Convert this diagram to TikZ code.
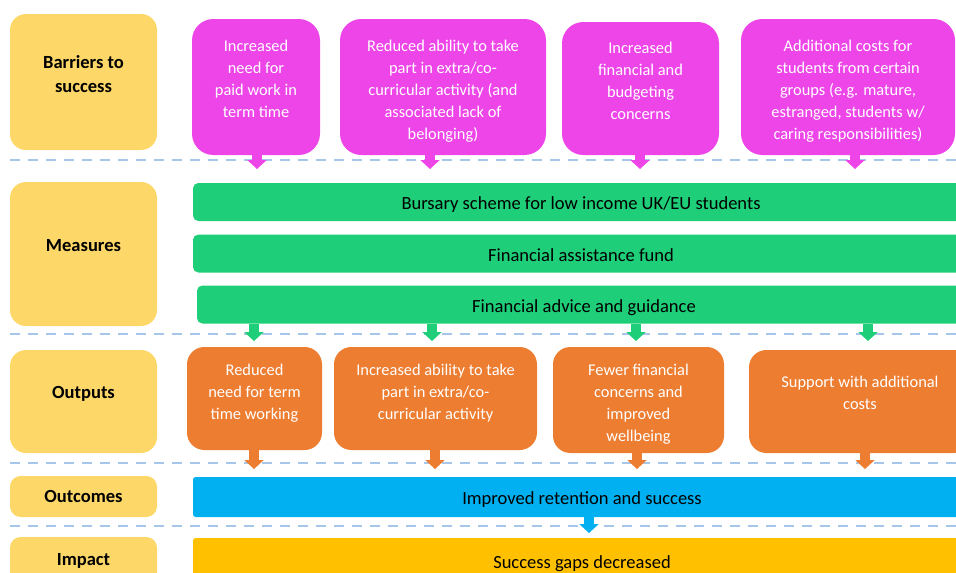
\documentclass[tikz,border=0pt]{standalone}
\usepackage{fontspec}
\setmainfont{Carlito}
\usetikzlibrary{arrows.meta}
\definecolor{stagecolor}{HTML}{FDD768}
\definecolor{barriercolor}{HTML}{EE45E9}
\definecolor{measurecolor}{HTML}{1FCE78}
\definecolor{outputcolor}{HTML}{ED7D31}
\definecolor{outcomecolor}{HTML}{00B0F0}
\definecolor{impactcolor}{HTML}{FFC000}
\definecolor{rulecolor}{HTML}{A6C6EA}

\begin{document}
\begin{tikzpicture}[
    x=0.75pt, y=-0.75pt,
    every node/.style={inner sep=0pt, align=center, font=\fontsize{13.9}{18}\selectfont},
    stage/.style={rectangle, fill=stagecolor, rounded corners=12pt, minimum width=110.25pt,
                  font=\fontsize{13.9}{18}\selectfont\bfseries},
    barrier/.style={rectangle, fill=barriercolor, rounded corners=16pt, text=white,
                    font=\fontsize{12.3}{16.5}\selectfont},
    bar/.style={rectangle, text height=12pt, text depth=0.5pt},
    measure/.style={bar, fill=measurecolor, rounded corners=4pt,
                    minimum width=582pt, minimum height=28.5pt},
    output/.style={rectangle, fill=outputcolor, rounded corners=13pt, text=white,
                   font=\fontsize{12.3}{16.5}\selectfont},
    outcome/.style={bar, fill=outcomecolor, rounded corners=2pt,
                    minimum width=583.5pt, minimum height=30pt},
    impact/.style={bar, fill=impactcolor, rounded corners=2pt,
                   minimum width=583.5pt, minimum height=34.5pt},
    divider/.style={rulecolor, line width=1.5pt, dash pattern=on 7.5pt off 6pt},
    arrow/.style={-{Triangle[width=14.25pt, length=6.75pt]}, line width=7.5pt},
]
    \clip (0,0) rectangle (956,572);

    % row dividers
    \foreach \y in {160, 334, 463, 526}
        \draw[divider] (10,\y) -- (956,\y);

    % left column (trailing \\[..] lifts the text a little)
    \node[stage, minimum height=102pt] (bar) at (83.5,82) {Barriers to\\success\\[-6pt]};
    \node[stage, minimum height=108pt] (mea) at (83.5,254) {Measures\\[-4.5pt]};
    \node[stage, minimum height=77.25pt] (out) at (83.5,401.5) {Outputs\\[-5pt]};
    \node[stage, minimum height=30.75pt, rounded corners=8pt] (otc) at (83.5,496.5) {Outcomes};
    \node[stage, minimum height=36pt, rounded corners=8pt] (imp) at (83.5,561) {Impact};

    % barriers
    \node[barrier, minimum width=96pt, minimum height=102pt] (b1) at (256,87)
        {Increased\\need for\\paid work in\\term time\\[-4.5pt]};
    \node[barrier, minimum width=154.5pt, minimum height=102pt] (b2) at (443,87)
        {Reduced ability to take\\part in extra/co-\\curricular activity (and\\associated lack of\\belonging)\\[-20.5pt]};
    \node[barrier, minimum width=117.75pt, minimum height=99.75pt] (b3) at (640.5,88.5)
        {Increased\\financial and\\budgeting\\concerns\\[-4.5pt]};
    \node[barrier, minimum width=160.5pt, minimum height=102pt] (b4) at (848,87)
        {Additional costs for\\students from certain\\groups (e.g. mature,\\estranged, students w/\\caring responsibilities)\\[-21pt]};

    % measures
    \node[measure] (m1) at (581,202) {Bursary scheme for low income UK/EU students};
    \node[measure] (m2) at (581,253.5) {Financial assistance fund};
    \node[measure, minimum width=580.5pt] (m3) at (584,304.5) {Financial advice and guidance};

    % outputs
    \node[output, minimum width=101.25pt, minimum height=77.25pt] (o1) at (254.5,398.5)
        {Reduced\\need for term\\time working\\[-6pt]};
    \node[output, minimum width=152.25pt, minimum height=77.25pt] (o2) at (435.5,398.5)
        {Increased ability to take\\part in extra/co-\\curricular activity\\[-6pt]};
    \node[output, minimum width=128.25pt, minimum height=79.5pt] (o3) at (638.5,400)
        {Fewer financial\\concerns and\\improved\\wellbeing\\[-21pt]};
    \node[output, minimum width=166.5pt, minimum height=77.25pt] (o4) at (860,401.5)
        {Support with additional\\costs\\[-3.75pt]};

    % outcome and impact
    \node[outcome] (oc) at (582,497) {Improved retention and success};
    \node[impact] (ip) at (582,561) {Success gaps decreased};

    % arrow ends
    \coordinate (tb1) at (257,169);
    \coordinate (tb2) at (430,169);
    \coordinate (tb3) at (640,169);
    \coordinate (tb4) at (855,169);
    \coordinate (tm1) at (254,341);
    \coordinate (tm2) at (432,341);
    \coordinate (tm3) at (636,341);
    \coordinate (tm4) at (868,341);
    \coordinate (to1) at (254,469);
    \coordinate (to2) at (435,469);
    \coordinate (to3) at (637,469);
    \coordinate (to4) at (865,469);
    \coordinate (toc) at (589,533);

    \foreach \i in {1,...,4}
        \draw[arrow, barriercolor] (b\i.south -| tb\i) -- (tb\i);
    \foreach \i in {1,...,4}
        \draw[arrow, measurecolor] (m3.south -| tm\i) -- (tm\i);
    \foreach \i in {1,...,4}
        \draw[arrow, outputcolor] (o\i.south -| to\i) -- (to\i);
    \draw[arrow, outcomecolor] (oc.south -| toc) -- (toc);
\end{tikzpicture}
\end{document}
